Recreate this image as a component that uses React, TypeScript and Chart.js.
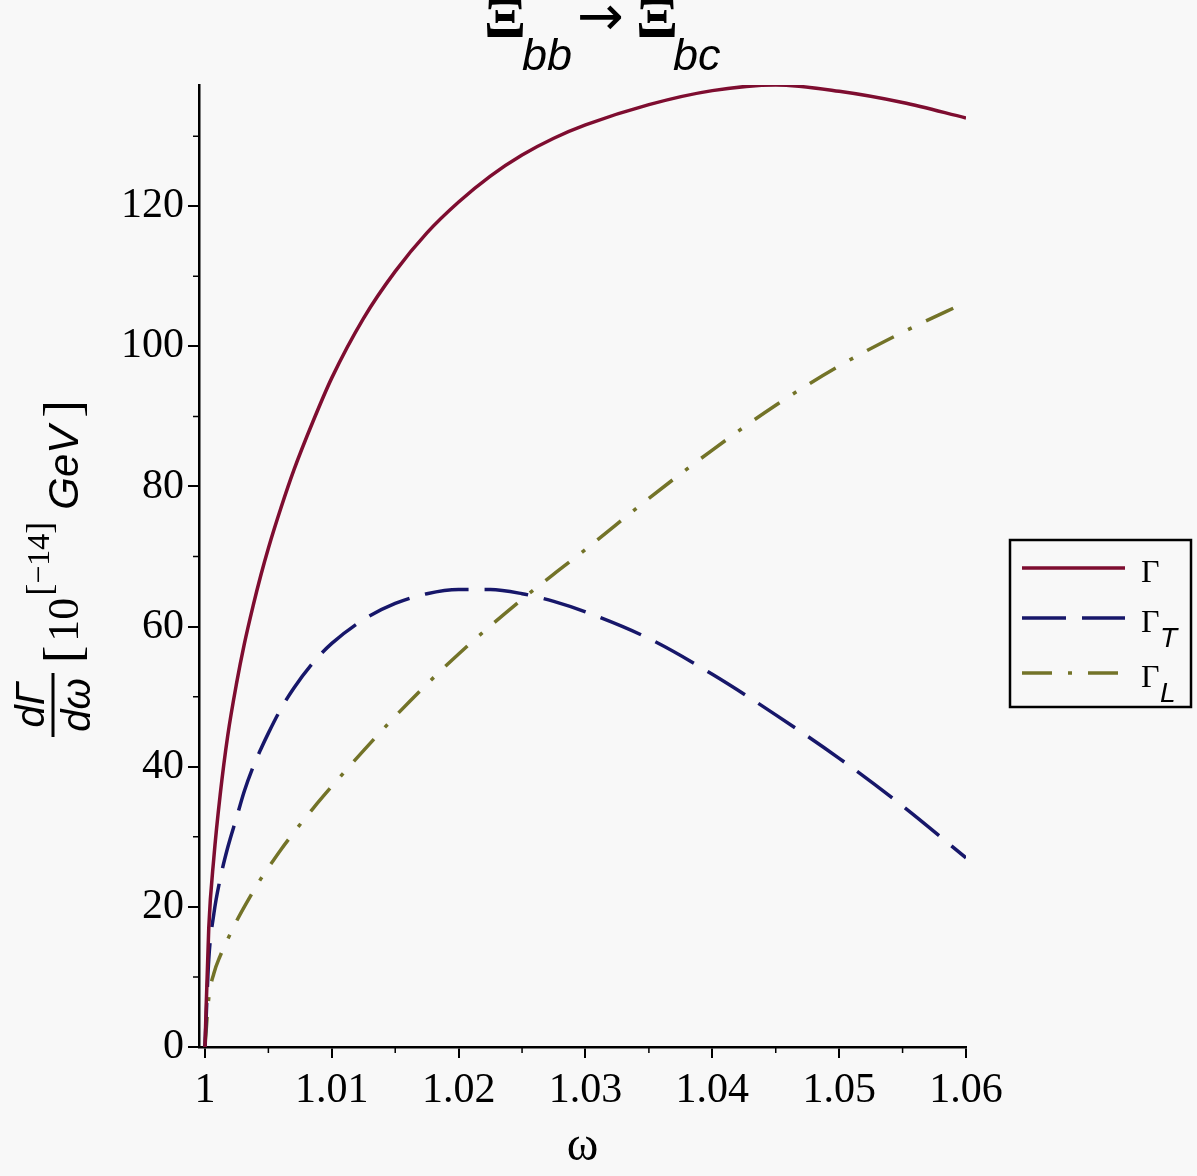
import React, { useEffect, useRef } from "react";
import { Chart, registerables } from "chart.js";

Chart.register(...registerables);

// omega values (not evenly spaced: the curves rise steeply near 1)
const omega = [
  1, 1.0003, 1.0007, 1.0012, 1.0018, 1.0025, 1.0031, 1.0038, 1.0044, 1.005,
  1.006, 1.007, 1.0085, 1.01, 1.0125, 1.015, 1.0175, 1.02, 1.0225, 1.025,
  1.0275, 1.03, 1.035, 1.04, 1.045, 1.05, 1.055, 1.06,
];

const gammaTotal = [
  0, 17, 27, 36, 44.5, 52, 57.5, 63, 67.3, 71.2, 77, 82.3, 89.2, 95.5, 104,
  110.7, 116.2, 120.6, 124.3, 127.3, 129.7, 131.6, 134.5, 136.5, 137.3, 136.4,
  134.8, 132.6,
];

const gammaT = [
  0, 12.5, 19, 24, 28.5, 32.8, 36.5, 40, 42.5, 44.8, 48.3, 51.2, 54.8, 57.6,
  61, 63.3, 64.7, 65.3, 65.3, 64.7, 63.6, 62.1, 58.3, 53.2, 47.4, 41.2, 34.4,
  27,
];

const gammaL = [
  0, 7, 10.5, 13, 15.4, 18, 20, 22.2, 24, 25.6, 28.2, 30.6, 34, 37.2, 42.3,
  47.2, 51.8, 56.1, 60.1, 63.9, 67.5, 71, 78.3, 85.2, 91.6, 97.2, 102, 106.3,
];

const xTicks = [1, 1.01, 1.02, 1.03, 1.04, 1.05, 1.06];
const xMinorTicks = [1.005, 1.015, 1.025, 1.035, 1.045, 1.055];
const yTicks = [0, 20, 40, 60, 80, 100, 120];
const yMinorTicks = [10, 30, 50, 70, 90, 110, 130];

const RED = "#7e0d30";
const BLUE = "#17176a";
const OLIVE = "#737328";
const BLUE_DASH = [44, 16];
const OLIVE_DASH = [30, 16, 4, 16];

const serif = "'Liberation Serif', 'DejaVu Serif', serif";
const sans = "'Liberation Sans', 'DejaVu Sans', sans-serif";

const toPoints = (ys: number[]) => omega.map((x, i) => ({ x, y: ys[i] }));

const decorations = {
  id: "decorations",
  afterDraw(chart: Chart) {
    const ctx = chart.ctx;
    const x = chart.scales.x;
    const y = chart.scales.y;
    const area = chart.chartArea;
    ctx.save();
    ctx.fillStyle = "#000";
    ctx.strokeStyle = "#000";

    // minor ticks
    ctx.lineWidth = 1.5;
    ctx.beginPath();
    yMinorTicks.forEach((v) => {
      const py = y.getPixelForValue(v);
      ctx.moveTo(area.left - 6, py);
      ctx.lineTo(area.left, py);
    });
    xMinorTicks.forEach((v) => {
      const px = x.getPixelForValue(v);
      ctx.moveTo(px, area.bottom);
      ctx.lineTo(px, area.bottom + 6);
    });
    ctx.stroke();

    // title  Ξ_bb → Ξ_bc
    ctx.textAlign = "left";
    ctx.textBaseline = "alphabetic";
    ctx.font = `bold 62px ${serif}`;
    ctx.fillText("Ξ", 484, 37);
    ctx.fillText("Ξ", 636, 37);
    ctx.font = `italic 45px ${sans}`;
    ctx.fillText("bb", 522, 70);
    ctx.fillText("bc", 673, 70);
    ctx.textBaseline = "middle";
    ctx.font = `56px 'DejaVu Sans', sans-serif`;
    ctx.fillText("→", 577, 20, 50);
    ctx.textBaseline = "alphabetic";

    // x axis title
    ctx.textAlign = "center";
    ctx.font = `48px ${serif}`;
    ctx.fillText("ω", (area.left + area.right) / 2, 1160);

    // y axis title, rotated
    ctx.save();
    ctx.translate(53, 705);
    ctx.rotate(-Math.PI / 2);
    ctx.lineWidth = 3;
    ctx.beginPath();
    ctx.moveTo(-32, 0);
    ctx.lineTo(32, 0);
    ctx.stroke();
    ctx.textAlign = "center";
    ctx.font = `italic 40px ${sans}`;
    ctx.fillText("dΓ", 0, -9);
    ctx.fillText("dω", 0, 37);
    ctx.textAlign = "left";
    let cx = 42;
    ctx.font = `52px ${serif}`;
    ctx.fillText("[", cx, 27);
    cx += ctx.measureText("[").width + 4;
    ctx.font = `44px ${serif}`;
    ctx.fillText("10", cx, 25);
    cx += ctx.measureText("10").width + 2;
    ctx.font = `36px ${serif}`;
    ctx.fillText("[", cx, -2);
    cx += ctx.measureText("[").width;
    ctx.font = `32px ${serif}`;
    ctx.fillText("−14", cx, -4);
    cx += ctx.measureText("−14").width;
    ctx.font = `36px ${serif}`;
    ctx.fillText("]", cx, -2);
    cx += ctx.measureText("]").width + 12;
    ctx.font = `italic 42px ${sans}`;
    ctx.fillText("GeV", cx, 25);
    cx += ctx.measureText("GeV").width + 8;
    ctx.font = `52px ${serif}`;
    ctx.fillText("]", cx, 27);
    ctx.restore();

    // legend
    ctx.lineWidth = 2.5;
    ctx.strokeRect(1010, 540, 181, 167);
    const rows = [
      { color: RED, dash: [] as number[], y: 568, sub: "" },
      { color: BLUE, dash: BLUE_DASH, y: 618, sub: "T" },
      { color: OLIVE, dash: OLIVE_DASH, y: 673, sub: "L" },
    ];
    rows.forEach((r) => {
      ctx.strokeStyle = r.color;
      ctx.lineWidth = 3.5;
      ctx.setLineDash(r.dash);
      ctx.beginPath();
      ctx.moveTo(1022, r.y);
      ctx.lineTo(1125, r.y);
      ctx.stroke();
      ctx.setLineDash([]);
      ctx.textAlign = "left";
      ctx.font = `32px ${serif}`;
      ctx.fillText("Γ", 1141, r.y + 14);
      if (r.sub) {
        ctx.font = `italic 28px ${sans}`;
        ctx.fillText(r.sub, 1160, r.y + 29);
      }
    });
    ctx.restore();
  },
};

export default function App() {
  const canvasRef = useRef<HTMLCanvasElement | null>(null);
  const chartRef = useRef<Chart | null>(null);

  useEffect(() => {
    if (!canvasRef.current) return;
    if (chartRef.current) chartRef.current.destroy();

    chartRef.current = new Chart(canvasRef.current, {
      type: "line",
      data: {
        datasets: [
          {
            label: "Γ",
            data: toPoints(gammaTotal),
            borderColor: RED,
            borderWidth: 3.5,
            pointRadius: 0,
            cubicInterpolationMode: "monotone",
          },
          {
            label: "Γ_T",
            data: toPoints(gammaT),
            borderColor: BLUE,
            borderWidth: 3.5,
            borderDash: BLUE_DASH,
            pointRadius: 0,
            cubicInterpolationMode: "monotone",
          },
          {
            label: "Γ_L",
            data: toPoints(gammaL),
            borderColor: OLIVE,
            borderWidth: 3.5,
            borderDash: OLIVE_DASH,
            pointRadius: 0,
            cubicInterpolationMode: "monotone",
          },
        ],
      },
      options: {
        animation: false,
        responsive: true,
        maintainAspectRatio: false,
        layout: { padding: { top: 85, right: 231, left: 0, bottom: 0 } },
        plugins: {
          legend: { display: false },
          tooltip: { enabled: false },
        },
        scales: {
          x: {
            type: "linear",
            min: 0.99953,
            max: 1.06,
            afterBuildTicks: (s) => {
              s.ticks = xTicks.map((value) => ({ value }));
            },
            afterFit: (s) => {
              s.height = 129;
            },
            grid: {
              drawOnChartArea: false,
              drawTicks: true,
              tickLength: 11,
              color: "#000",
              lineWidth: 2,
            },
            border: { display: true, color: "#000", width: 2.5 },
            ticks: {
              color: "#000",
              font: { family: serif, size: 42 },
              padding: 8,
              maxRotation: 0,
              autoSkip: false,
              callback: (v) => `${v}`,
            },
          },
          y: {
            type: "linear",
            min: 0,
            max: 137.3,
            afterBuildTicks: (s) => {
              s.ticks = yTicks.map((value) => ({ value }));
            },
            afterFit: (s) => {
              s.width = 199;
            },
            grid: {
              drawOnChartArea: false,
              drawTicks: true,
              tickLength: 11,
              color: "#000",
              lineWidth: 2,
            },
            border: { display: true, color: "#000", width: 2.5 },
            ticks: {
              color: "#000",
              font: { family: serif, size: 42 },
              padding: 4,
              autoSkip: false,
              callback: (v) => `${v}`,
            },
          },
        },
      },
      plugins: [decorations],
    });

    return () => {
      if (chartRef.current) {
        chartRef.current.destroy();
        chartRef.current = null;
      }
    };
  }, []);

  return (
    <div
      style={{
        position: "fixed",
        left: 0,
        top: 0,
        width: 1197,
        height: 1176,
        background: "#f8f8f8",
      }}
    >
      <canvas ref={canvasRef} />
    </div>
  );
}
